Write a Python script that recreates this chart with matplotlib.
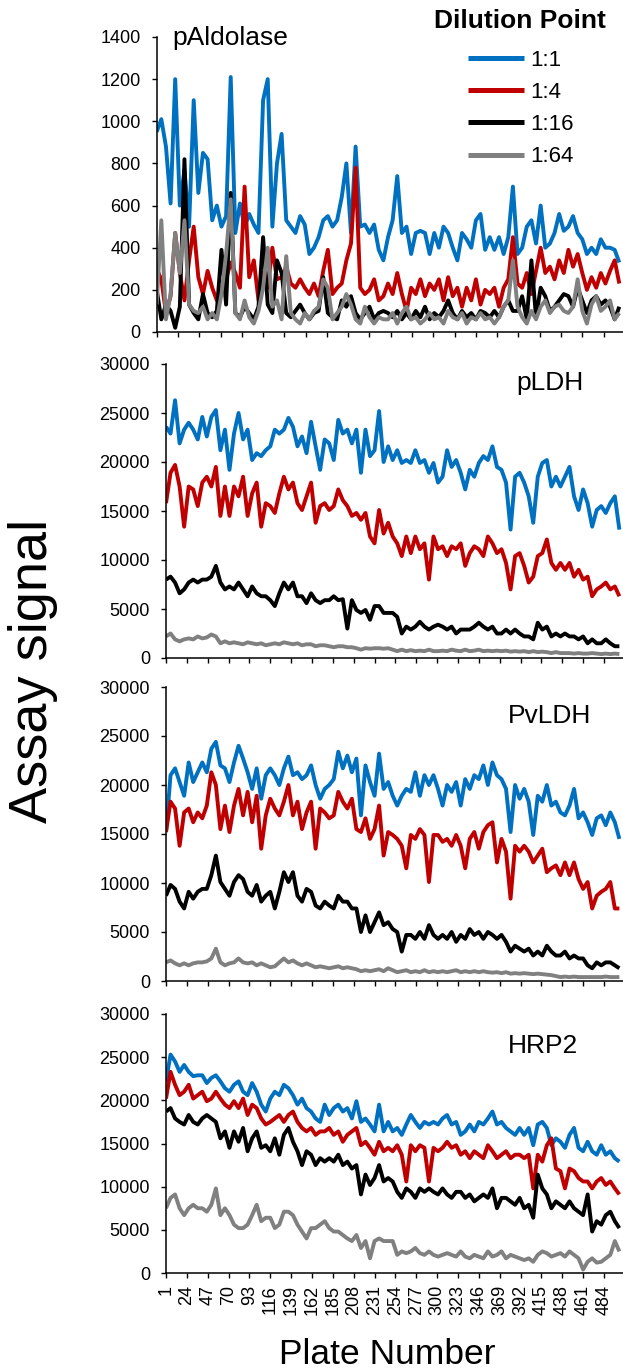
import numpy as np
import matplotlib
matplotlib.use('Agg')
import matplotlib.pyplot as plt

# values every 5th plate (1, 6, 11, ... 501)
plates = np.arange(1, 502, 5)
tick_plates = np.arange(1, 485, 23)
dilutions = ['1:1', '1:4', '1:16', '1:64']
colors = ['#0070C0', '#C00000', '#000000', '#808080']

ald_11 = [950, 1010, 880, 610, 1200, 600, 770, 500, 1100, 660,
          850, 820, 530, 600, 500, 550, 1210, 470, 610, 500,
          560, 510, 470, 1100, 1200, 500, 800, 940, 530, 500,
          470, 550, 510, 370, 400, 450, 530, 550, 500, 530,
          640, 800, 470, 880, 500, 510, 470, 510, 390, 340,
          450, 530, 740, 470, 500, 370, 470, 480, 470, 370,
          470, 400, 500, 470, 400, 340, 470, 440, 400, 530,
          560, 390, 450, 390, 450, 370, 450, 690, 370, 400,
          500, 530, 420, 600, 400, 420, 470, 560, 480, 500,
          550, 470, 440, 370, 400, 370, 440, 400, 400, 390,
          330]
ald_14 = [300, 250, 90, 170, 470, 280, 150, 340, 500, 260,
          180, 290, 210, 150, 210, 250, 330, 280, 210, 690,
          260, 340, 150, 280, 210, 400, 250, 260, 310, 230,
          210, 250, 210, 180, 230, 170, 290, 390, 180, 210,
          230, 340, 420, 780, 210, 180, 200, 250, 150, 170,
          230, 180, 280, 180, 100, 210, 180, 250, 170, 230,
          200, 250, 150, 260, 170, 210, 120, 210, 150, 250,
          130, 200, 180, 210, 120, 210, 250, 450, 230, 210,
          280, 180, 290, 400, 280, 310, 250, 340, 280, 390,
          310, 370, 280, 200, 260, 210, 280, 230, 290, 340,
          230]
ald_116 = [200, 60, 130, 100, 20, 120, 820, 130, 90, 60,
           180, 90, 70, 100, 390, 130, 660, 90, 70, 120,
           90, 60, 120, 450, 130, 90, 340, 280, 90, 70,
           100, 130, 90, 60, 90, 100, 260, 90, 70, 60,
           150, 120, 170, 90, 60, 90, 120, 60, 90, 100,
           90, 70, 100, 60, 90, 60, 100, 70, 120, 60,
           90, 70, 100, 150, 90, 60, 100, 70, 90, 60,
           100, 90, 70, 100, 70, 120, 150, 100, 100, 170,
           60, 340, 70, 210, 170, 100, 120, 150, 180, 170,
           120, 210, 150, 90, 150, 170, 130, 150, 120, 60,
           120]
ald_164 = [130, 530, 60, 180, 470, 280, 530, 130, 100, 90,
           120, 60, 90, 60, 180, 370, 630, 90, 60, 150,
           70, 40, 100, 210, 400, 120, 150, 60, 360, 90,
           60, 40, 90, 60, 100, 120, 250, 210, 60, 90,
           120, 180, 130, 60, 40, 120, 70, 40, 70, 60,
           60, 90, 40, 90, 120, 60, 70, 40, 60, 90,
           60, 70, 40, 100, 70, 60, 90, 40, 70, 60,
           90, 60, 70, 40, 70, 120, 150, 340, 120, 70,
           40, 100, 60, 120, 150, 90, 120, 130, 100, 90,
           120, 250, 100, 40, 130, 170, 100, 120, 150, 60,
           90]

ldh_11 = [23600, 22900, 26300, 21900, 23300, 24000, 23300, 22300, 24600, 22600,
          24600, 25300, 21200, 23300, 19200, 22900, 25000, 22300, 23300, 20200,
          20900, 20600, 21200, 21600, 23300, 22900, 23300, 24500, 23600, 21600,
          22600, 20900, 24100, 21600, 19200, 22300, 21900, 20200, 24300, 22900,
          23300, 21900, 23300, 18900, 23300, 20600, 21200, 25200, 20000, 21600,
          20200, 21200, 19900, 20200, 19900, 21200, 19900, 20200, 18900, 19900,
          17900, 18500, 21200, 19500, 20200, 18900, 17200, 19200, 18500, 19900,
          20600, 20200, 21600, 19500, 19200, 17900, 13100, 18500, 18900, 17900,
          16500, 13800, 18500, 19900, 20200, 17500, 18500, 17500, 18500, 19500,
          16500, 15100, 17200, 15800, 13400, 15100, 15500, 14800, 15800, 16500,
          13100]
ldh_14 = [15800, 18900, 19700, 17500, 13400, 17500, 17200, 15500, 17900, 18500,
          17500, 19500, 14500, 17500, 14500, 17500, 16500, 18500, 14500, 16800,
          17900, 13400, 15800, 15500, 14800, 16800, 18500, 17200, 17900, 15800,
          15100, 16500, 17900, 13800, 15500, 15800, 15100, 15500, 17200, 16100,
          15500, 14500, 14800, 14100, 14800, 12400, 11700, 15100, 12700, 13800,
          12400, 11700, 10400, 12400, 10700, 12400, 11100, 11700, 8000, 12400,
          11100, 11400, 10400, 11400, 11100, 11700, 9400, 10700, 11400, 11100,
          10400, 12400, 11700, 10700, 11100, 9700, 7000, 10400, 10700, 9400,
          7700, 8300, 10400, 10700, 12100, 9700, 9000, 9700, 9000, 9700,
          8300, 9000, 8000, 8300, 6300, 7000, 7300, 7700, 7000, 7300,
          6300]
ldh_116 = [8000, 8300, 7700, 6600, 7000, 7700, 8000, 7700, 8000, 8000,
           8300, 9400, 7700, 7000, 7300, 7000, 7700, 7000, 6300, 7300,
           6600, 6300, 6300, 5900, 5300, 6600, 7700, 7000, 7700, 6300,
           6300, 5600, 6600, 5900, 5600, 5900, 5900, 6300, 5900, 6000,
           3000, 5900, 4900, 4600, 4900, 3900, 5300, 5300, 4600, 4600,
           4600, 4200, 2500, 3200, 2900, 3200, 3700, 3200, 2900, 3200,
           3400, 3200, 2900, 3200, 2500, 2900, 2900, 2900, 3200, 3600,
           3200, 2900, 3200, 2500, 2500, 2900, 2500, 2900, 2500, 2200,
           2200, 1900, 3600, 2900, 3200, 2200, 2500, 2200, 2500, 2200,
           2200, 1900, 2200, 1500, 1900, 1500, 1500, 1900, 1500, 1200,
           1200]
ldh_164 = [2200, 2500, 1900, 1700, 1900, 2000, 1900, 2200, 2000, 2100,
           2400, 2200, 1500, 1700, 1500, 1600, 1500, 1400, 1600, 1500,
           1400, 1500, 1300, 1400, 1500, 1400, 1600, 1500, 1400, 1500,
           1300, 1400, 1400, 1200, 1300, 1300, 1200, 1100, 1200, 1200,
           1100, 1100, 1000, 850, 1000, 950, 1000, 1000, 950, 1000,
           850, 700, 850, 700, 800, 700, 750, 700, 850, 700,
           700, 750, 700, 850, 750, 700, 850, 700, 750, 850,
           700, 750, 700, 750, 700, 750, 650, 700, 650, 700,
           600, 700, 600, 650, 600, 500, 600, 500, 500, 500,
           450, 500, 450, 450, 500, 450, 400, 450, 400, 450,
           400]

pvldh_11 = [15200, 21000, 21700, 20300, 18900, 22300, 20300, 21300, 22300, 21300,
            23700, 24400, 22000, 21700, 20300, 22300, 24000, 22700, 21300, 19600,
            21700, 18600, 21000, 21700, 21000, 20000, 21700, 22900, 21000, 21300,
            20600, 21000, 22000, 20000, 18600, 19600, 20000, 20600, 23400, 21700,
            23000, 21300, 22700, 16900, 22000, 20300, 18900, 23200, 19600, 20300,
            18900, 17900, 18900, 19600, 19300, 21300, 18900, 21000, 20000, 21000,
            19600, 17900, 20000, 19300, 20300, 17900, 20600, 19600, 21000, 20600,
            22000, 20000, 22300, 21000, 20600, 19600, 15200, 20000, 18600, 19600,
            18300, 14900, 18900, 18300, 20000, 17900, 18300, 17200, 16900, 17900,
            19600, 16600, 17200, 16200, 14900, 16600, 16900, 15900, 17200, 16200,
            14500]
pvldh_14 = [15200, 18300, 17600, 13800, 17200, 17600, 16200, 17200, 16600, 17900,
            21300, 20000, 15500, 17900, 15200, 17900, 19600, 16900, 19300, 16200,
            18900, 13500, 16900, 18600, 17600, 16900, 18300, 20000, 16900, 18300,
            15500, 17200, 18300, 13500, 17600, 17200, 16600, 16900, 19300, 18300,
            17600, 18600, 15500, 15200, 16600, 14500, 15500, 17900, 12800, 15200,
            14900, 14500, 13800, 11500, 14900, 14500, 15500, 14900, 10100, 14900,
            14900, 14200, 14500, 13800, 14900, 13800, 11500, 14500, 15200, 13500,
            15200, 15900, 16200, 12100, 14500, 13200, 8400, 13800, 13200, 13800,
            13200, 12100, 12800, 13500, 11100, 11500, 11800, 10800, 12100, 10800,
            12100, 10400, 9400, 10100, 7400, 8700, 9100, 9400, 10100, 7400,
            7400]
pvldh_116 = [8700, 9800, 9400, 8100, 7400, 9100, 8400, 9100, 9400, 9400,
             10800, 12800, 10100, 9400, 8700, 10100, 10800, 10400, 9100, 8700,
             9800, 8100, 8700, 9100, 7400, 9100, 11100, 10100, 11100, 8700,
             8100, 9400, 9100, 7700, 7400, 8100, 7700, 7400, 8700, 8100,
             8100, 7400, 7400, 5000, 6700, 5000, 6000, 7000, 5700, 6000,
             5300, 5000, 3000, 4700, 4700, 4300, 5000, 4300, 5700, 4700,
             4300, 4700, 4300, 5000, 4000, 4700, 4300, 5300, 4700, 5000,
             4300, 5000, 4700, 4300, 4700, 4000, 3000, 3600, 3300, 3000,
             3300, 2600, 3000, 2600, 3600, 3000, 2600, 2600, 3000, 2300,
             2600, 2300, 2300, 1600, 1300, 1900, 1600, 1900, 1900, 1600,
             1300]
pvldh_164 = [1900, 2100, 1800, 1600, 1800, 1600, 1800, 1900, 1900, 2000,
             2300, 3300, 1900, 1600, 1800, 1900, 2300, 1900, 1800, 1900,
             1600, 1800, 1600, 1400, 1500, 1900, 2300, 1900, 2100, 1800,
             1600, 1800, 1600, 1400, 1500, 1400, 1300, 1400, 1500, 1300,
             1400, 1300, 1200, 1000, 1100, 1000, 1100, 1200, 1000, 1300,
             1100, 900, 1000, 1100, 900, 1000, 900, 1100, 900, 1000,
             900, 1000, 900, 1000, 1100, 900, 1000, 900, 1000, 900,
             1000, 900, 850, 900, 800, 900, 750, 800, 750, 800,
             750, 700, 750, 700, 650, 600, 500, 400, 450, 400,
             450, 400, 400, 400, 400, 400, 400, 450, 400, 400,
             400]

hrp2_11 = [22200, 25300, 24500, 23300, 24100, 23300, 22800, 22900, 22900, 22000,
           22600, 22900, 22200, 21400, 21000, 21800, 22200, 21000, 20600, 22000,
           21000, 19500, 18700, 20200, 21000, 20600, 21800, 21400, 20600, 19500,
           20200, 19100, 18700, 17900, 17500, 19500, 18300, 19100, 19500, 18700,
           19100, 17900, 19900, 17500, 17900, 17200, 16400, 19500, 16400, 17500,
           16400, 16800, 16000, 17200, 18300, 17500, 16800, 17500, 17200, 17500,
           17200, 17900, 18300, 17200, 17500, 16000, 16400, 17200, 16400, 17500,
           17200, 17900, 18700, 17200, 17500, 16800, 16400, 16000, 16800, 16000,
           16800, 14800, 17200, 17500, 16800, 14800, 15600, 15200, 14500, 16000,
           16800, 14500, 14100, 15200, 14100, 13700, 14800, 13700, 14100, 13300,
           12900]
hrp2_14 = [20200, 23300, 21800, 20600, 21000, 21800, 20200, 20600, 21000, 19900,
           20200, 21000, 20200, 19500, 19100, 19900, 19100, 20200, 18300, 19500,
           19100, 17900, 17200, 17500, 17900, 18300, 17500, 18300, 18700, 17500,
           16800, 16400, 16800, 16000, 16400, 16400, 16800, 16000, 16400, 15200,
           16000, 16400, 16800, 14800, 15200, 14500, 13700, 15200, 14100, 14500,
           14100, 14800, 13700, 10600, 14800, 14100, 14800, 14500, 10600, 14500,
           14100, 14500, 15200, 14500, 14800, 13700, 14100, 13300, 14100, 13700,
           13300, 14800, 14100, 13300, 13700, 14100, 13300, 13700, 13700, 13300,
           13700, 9800, 13700, 12900, 14800, 15600, 12100, 11800, 9800, 12100,
           11800, 11000, 10600, 10600, 9800, 10600, 11000, 10200, 10600, 9800,
           9100]
hrp2_116 = [18700, 19100, 17900, 17500, 17200, 18300, 17500, 17200, 17900, 18300,
            17900, 17500, 15600, 16400, 14500, 16400, 15200, 16800, 14100, 15600,
            16400, 14500, 14800, 14100, 15600, 13700, 16000, 16800, 15200, 14100,
            12500, 14100, 13700, 12500, 13300, 12900, 13300, 12900, 13700, 12500,
            12900, 12100, 12500, 9100, 11400, 10200, 11000, 12500, 10600, 11000,
            10600, 9400, 8700, 9800, 9400, 8700, 9800, 9400, 9800, 9400,
            9100, 9800, 9100, 8700, 9400, 9400, 8700, 9100, 8300, 8700,
            9100, 8700, 9800, 7500, 8700, 8700, 8300, 7900, 8700, 7500,
            7900, 6400, 11400, 9800, 9100, 7500, 8300, 7900, 7500, 8300,
            7500, 7100, 6700, 9100, 4800, 6000, 5600, 6700, 7100, 6000,
            5200]
hrp2_164 = [7500, 8700, 9100, 7500, 6700, 7500, 7900, 7500, 7500, 7100,
            7900, 9800, 6700, 7500, 6700, 5600, 5200, 5200, 5600, 6700,
            7900, 6000, 6400, 6400, 5200, 5600, 7100, 7100, 6700, 5600,
            4800, 4000, 5200, 5200, 5600, 6000, 5200, 4800, 4800, 4400,
            4000, 3700, 4400, 2900, 3700, 1700, 3700, 4000, 3700, 3700,
            3700, 2100, 2500, 2300, 2500, 2900, 2300, 2100, 2500, 2100,
            1900, 2100, 2300, 2100, 1900, 2500, 1900, 1700, 2100, 1900,
            1700, 2500, 1900, 2100, 2500, 1700, 2100, 1900, 1700, 1500,
            1700, 1300, 2100, 2500, 2300, 1900, 2100, 2300, 1900, 2500,
            2100, 1700, 400, 1300, 1700, 1200, 1300, 1700, 2100, 3700,
            2500]

W, H = 623, 1372
fig = plt.figure(figsize=(W / 100, H / 100), dpi=100)
plt.rcParams['font.family'] = ['Liberation Sans', 'DejaVu Sans']

# name, series, ymax, ystep, axes box in pixels (left, top, bottom), title pos
panels = [
    ('pAldolase', [ald_11, ald_14, ald_116, ald_164], 1400, 200, (156.7, 37, 332), (172, 45)),
    ('pLDH', [ldh_11, ldh_14, ldh_116, ldh_164], 30000, 5000, (166, 364, 658), (516, 390)),
    ('PvLDH', [pvldh_11, pvldh_14, pvldh_116, pvldh_164], 30000, 5000, (166, 687, 981), (508, 723)),
    ('HRP2', [hrp2_11, hrp2_14, hrp2_116, hrp2_164], 30000, 5000, (166, 1014, 1273), (508, 1053)),
]

axes = []
for i, (name, series, ymax, ystep, box, tpos) in enumerate(panels):
    left, top, bottom = box
    ax = fig.add_axes([left / W, 1 - bottom / H, 1 - left / W, (bottom - top) / H])
    for vals, c in zip(series, colors):
        ax.plot(plates, vals, color=c, lw=2.8, solid_joinstyle='round',
                solid_capstyle='butt')
    ax.set_xlim(1, 505)
    ax.set_ylim(0, ymax)
    ax.set_yticks(np.arange(0, ymax + 1, ystep))
    ax.set_xticks(tick_plates)
    for s in ['top', 'right']:
        ax.spines[s].set_visible(False)
    for s in ['left', 'bottom']:
        ax.spines[s].set_linewidth(1.1)
    ax.tick_params(axis='y', direction='out', length=3.6, width=1.0, pad=8, labelsize=13)
    ax.tick_params(axis='x', direction='out', length=3.6, width=1.0, pad=5, labelsize=13)
    if i < 3:
        ax.set_xticklabels([])
    else:
        ax.set_xticklabels([str(t) for t in tick_plates], rotation=90)
    fig.text(tpos[0] / W, 1 - tpos[1] / H, name, fontsize=19, ha='left', va='baseline')
    axes.append(ax)

# legend
fig.text(520 / W, 1 - 21 / H, 'Dilution Point', fontsize=19, fontweight='bold',
         ha='center', va='center')
leg = axes[0].legend(axes[0].get_lines(), dilutions, loc='upper left',
                     bbox_to_anchor=(468 / W, 1 - 50 / H), bbox_transform=fig.transFigure,
                     frameon=False, fontsize=16, handlelength=2.5, handletextpad=0.3,
                     labelspacing=0.5, borderpad=0, borderaxespad=0)
for ln in leg.get_lines():
    ln.set_linewidth(3.6)

fig.text(33 / W, 1 - 671 / H, 'Assay signal', fontsize=39, rotation=90,
         ha='center', va='center')
fig.text(387 / W, 1 - 1354 / H, 'Plate Number', fontsize=25.5, ha='center', va='center')

fig.savefig('out.png', dpi=100)
